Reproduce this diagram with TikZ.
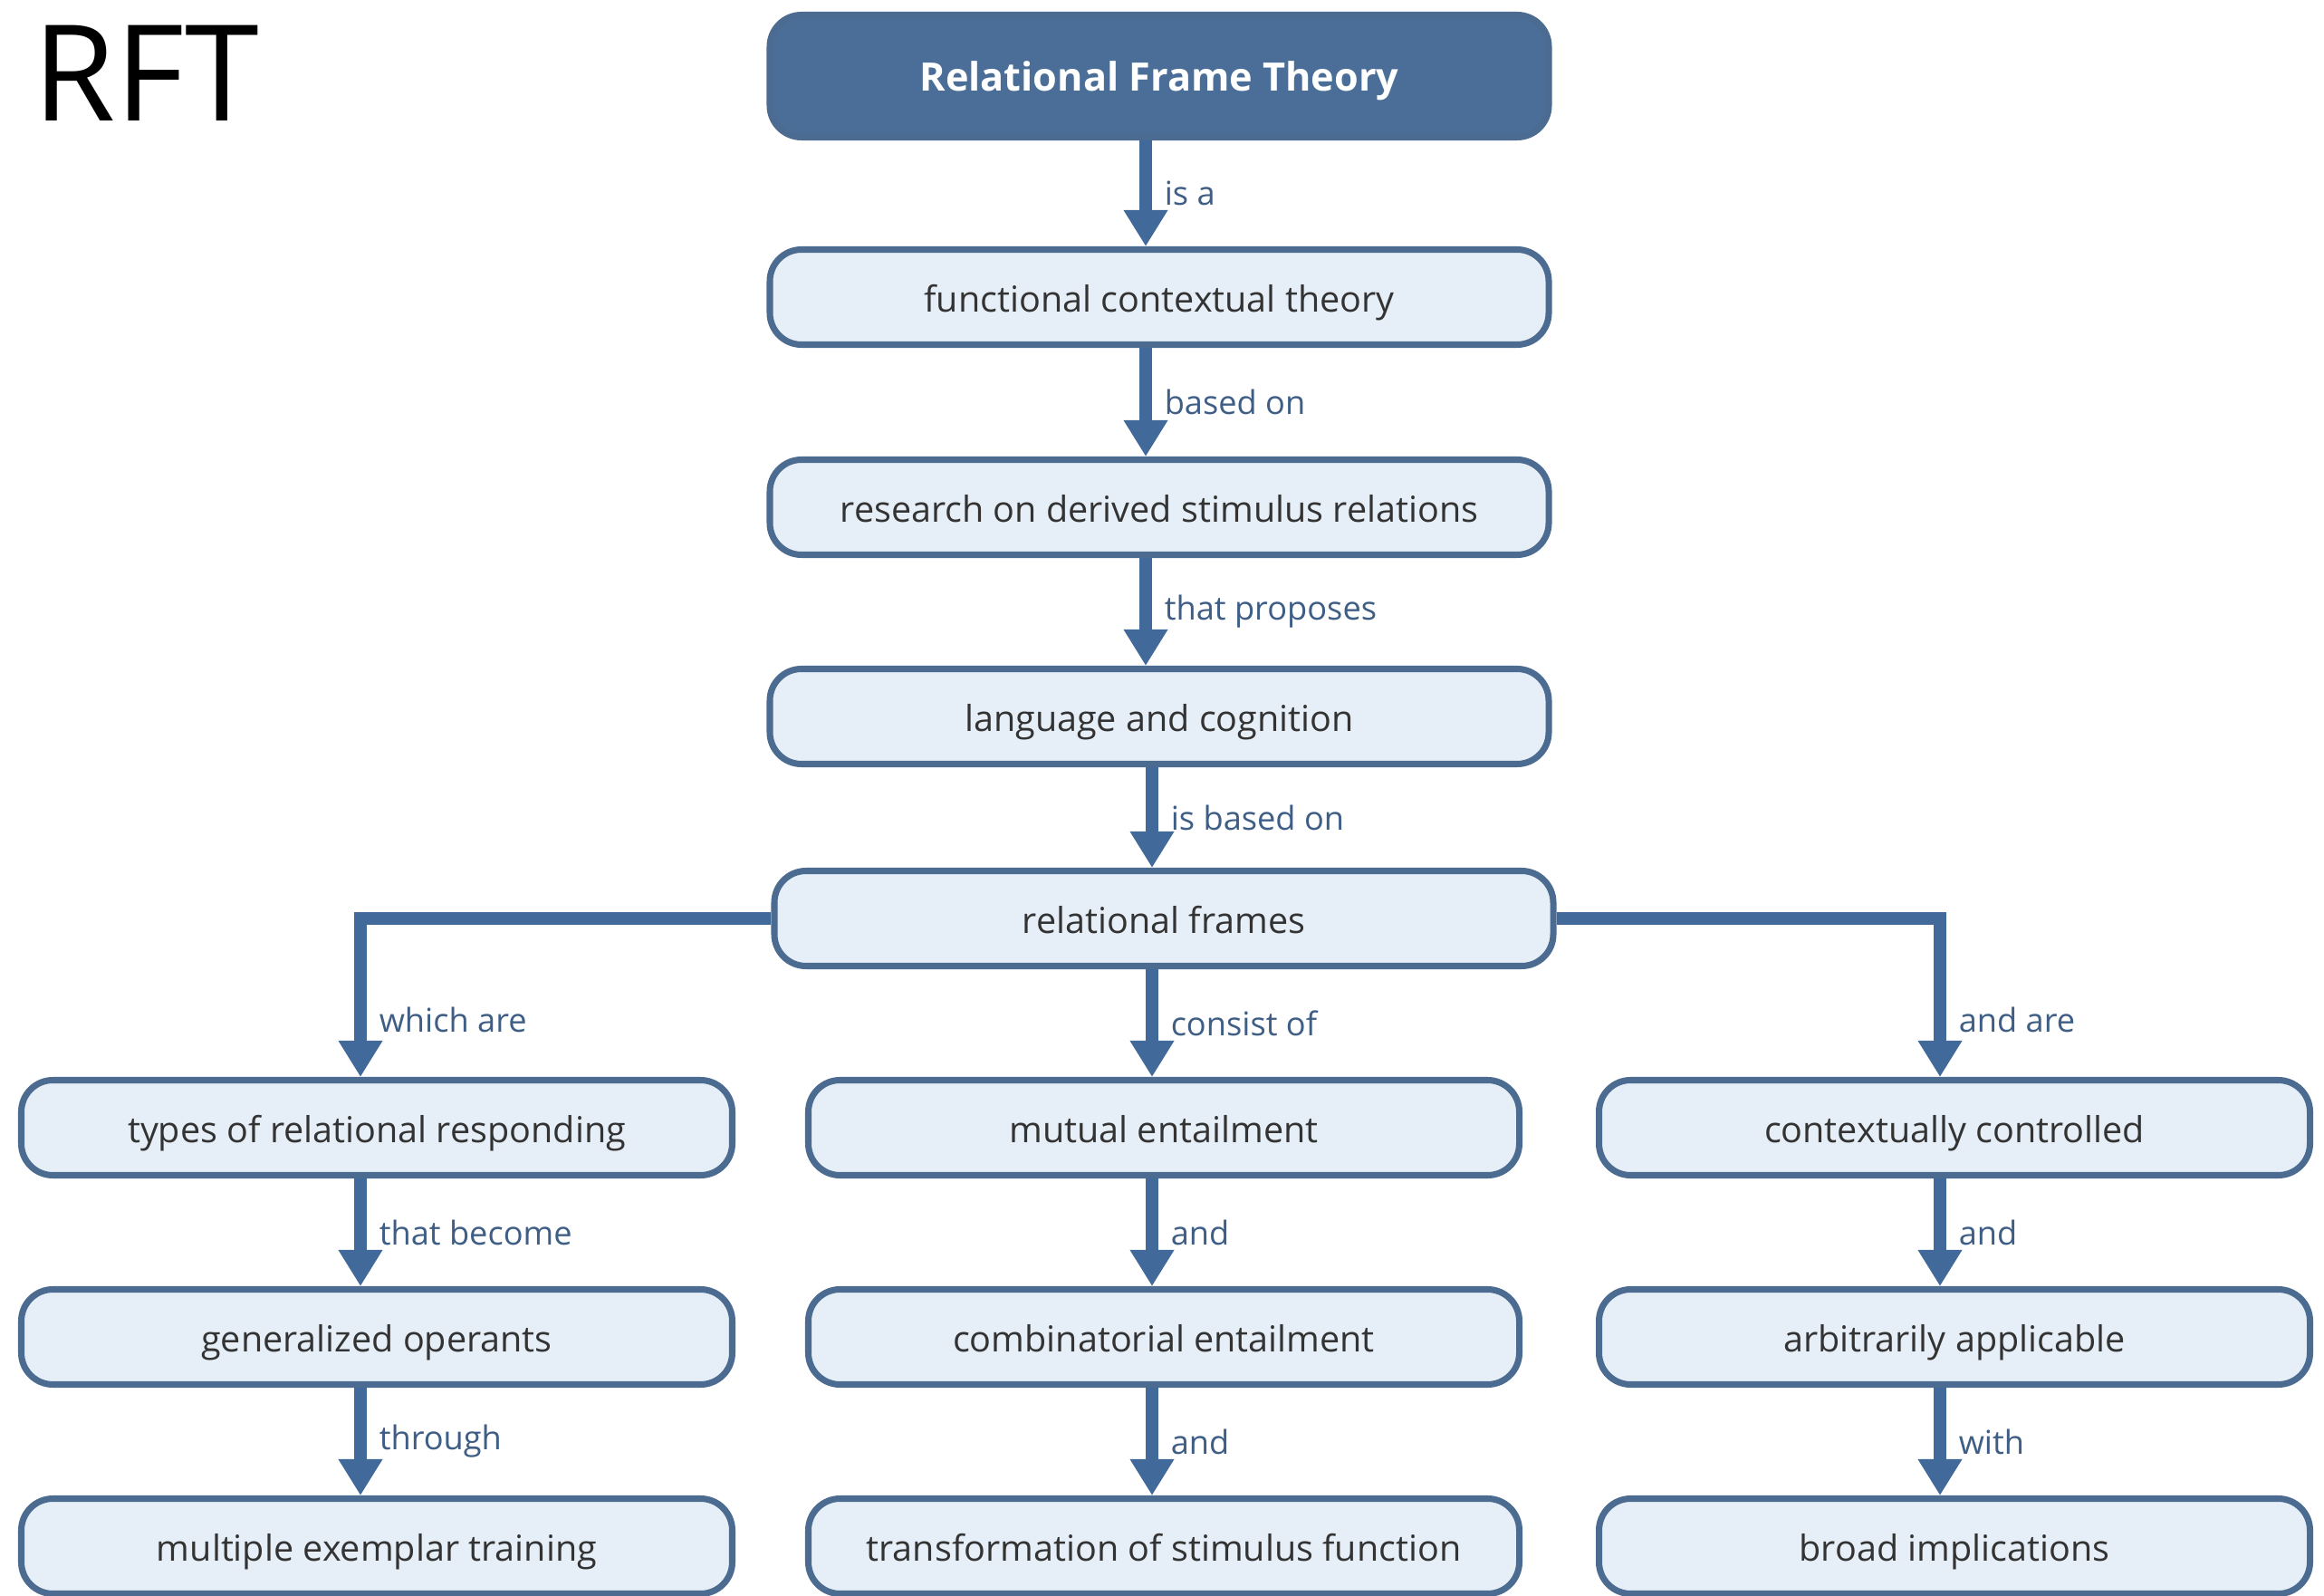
\documentclass[tikz,border=0pt]{standalone}
\usepackage{fontspec}
\setmainfont{Open Sans}
\usetikzlibrary{arrows.meta}

\definecolor{rftdark}{HTML}{4A6E97}
\definecolor{rftline}{HTML}{4B6B90}
\definecolor{rftfill}{HTML}{E6EFF8}
\definecolor{rftarrow}{HTML}{41699A}
\definecolor{rftlabel}{HTML}{3F5E86}
\definecolor{rfttext}{HTML}{333333}

\tikzset{
  concept/.style={draw=rftline, line width=2pt, fill=rftfill, rounded corners=0.35cm,
    minimum height=1.05cm, inner sep=0pt, text height=2.1ex, text depth=0.33ex,
    text=rfttext, font=\fontsize{11.25}{13}\selectfont},
  wide/.style={concept, minimum width=8.6cm},
  narrow/.style={concept, minimum width=7.85cm},
  headbox/.style={wide, fill=rftdark, minimum height=1.35cm, text=white,
    font=\fontsize{12.3}{14}\selectfont\bfseries},
  link/.style={draw=rftarrow, line width=4pt, -{Triangle[width=0.46cm,length=0.4cm]}},
  lbl/.style={anchor=west, xshift=0.02cm, text=rftlabel, font=\fontsize{10.3}{12}\selectfont}
}

\begin{document}
\begin{tikzpicture}[x=1cm,y=1cm]
\fill[white] (0,0) rectangle (25.66,-17.62);
\useasboundingbox (0,0) rectangle (25.66,-17.62);

\node[anchor=base west, inner sep=0pt, font=\fontsize{42}{46}\selectfont] (rft) at (0.36,-1.34) {RFT};

% main column
\node[headbox] (theory) at (12.80,-0.84) {Relational Frame Theory};
\node[wide] (fct) at (12.80,-3.28) {functional contextual theory};
\node[wide] (research) at (12.80,-5.60) {research on derived stimulus relations};
\node[wide] (lang) at (12.80,-7.91) {language and cognition};
\node[wide] (frames) at (12.85,-10.14) {relational frames};

% three branches
\node[narrow] (types) at (4.16,-12.45) {types of relational responding};
\node[narrow] (general) at (4.16,-14.76) {generalized operants};
\node[narrow] (multi) at (4.16,-17.07) {multiple exemplar training};

\node[narrow] (mutual) at (12.85,-12.45) {mutual entailment};
\node[narrow] (combin) at (12.85,-14.76) {combinatorial entailment};
\node[narrow] (transf) at (12.85,-17.07) {transformation of stimulus function};

\node[narrow] (context) at (21.58,-12.45) {contextually controlled};
\node[narrow] (arbit) at (21.58,-14.76) {arbitrarily applicable};
\node[narrow] (broad) at (21.58,-17.07) {broad implications};

% arrows
\draw[link] ([xshift=-0.15cm]theory.south) -- ([xshift=-0.15cm]fct.north) node[lbl, midway] {is a};
\draw[link] ([xshift=-0.15cm]fct.south) -- ([xshift=-0.15cm]research.north) node[lbl, midway] {based on};
\draw[link] ([xshift=-0.15cm]research.south) -- ([xshift=-0.15cm]lang.north) node[lbl, midway] {that proposes};
\draw[link] ([xshift=-0.13cm]frames.north |- lang.south) -- ([xshift=-0.13cm]frames.north) node[lbl, midway] {is based on};

\draw[link] (frames.west) -| ([xshift=-0.18cm]types.north) node[lbl, pos=0.82] {which are};
\draw[link] ([xshift=-0.13cm]frames.south) -- ([xshift=-0.13cm]mutual.north) node[lbl, midway] {consist of};
\draw[link] (frames.east) -| ([xshift=-0.16cm]context.north) node[lbl, pos=0.82] {and are};

\draw[link] ([xshift=-0.18cm]types.south) -- ([xshift=-0.18cm]general.north) node[lbl, midway] {that become};
\draw[link] ([xshift=-0.18cm]general.south) -- ([xshift=-0.18cm]multi.north) node[lbl, midway] {through};
\draw[link] ([xshift=-0.13cm]mutual.south) -- ([xshift=-0.13cm]combin.north) node[lbl, midway] {and};
\draw[link] ([xshift=-0.13cm]combin.south) -- ([xshift=-0.13cm]transf.north) node[lbl, midway] {and};
\draw[link] ([xshift=-0.16cm]context.south) -- ([xshift=-0.16cm]arbit.north) node[lbl, midway] {and};
\draw[link] ([xshift=-0.16cm]arbit.south) -- ([xshift=-0.16cm]broad.north) node[lbl, midway] {with};
\end{tikzpicture}
\end{document}
